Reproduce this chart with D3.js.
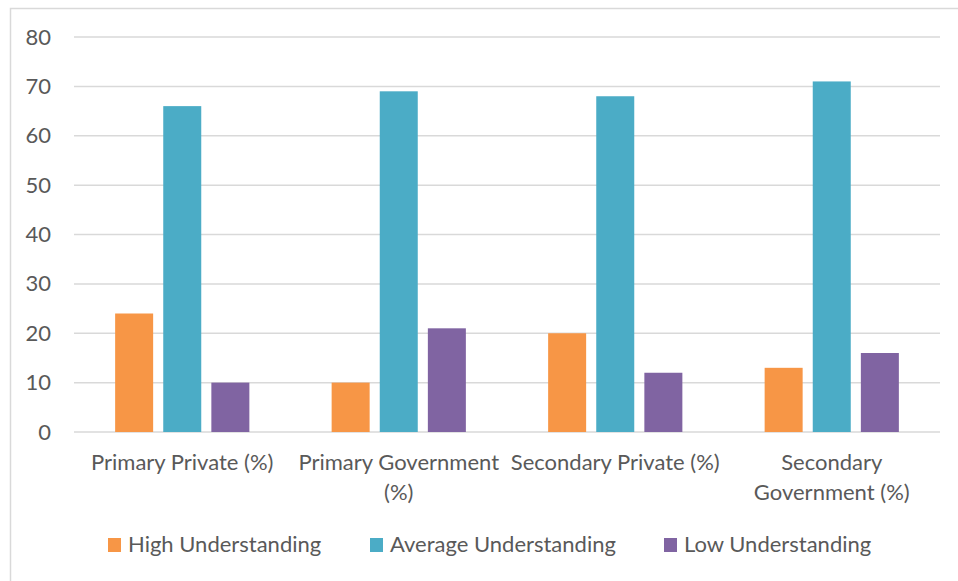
<!DOCTYPE html>
<html>
<head>
<meta charset="utf-8">
<script src="https://cdn.jsdelivr.net/npm/d3@7"></script>
<style>
  html, body { margin: 0; padding: 0; background: #fff; }
  svg { display: block; }
  text { font-family: Lato, "Open Sans", sans-serif; fill: #595959; }
</style>
</head>
<body>
<svg id="chart" width="958" height="581"></svg>
<script>
// School groups along the x axis, with the line breaks used in their labels
const categories = ["Primary Private (%)", "Primary Government (%)", "Secondary Private (%)", "Secondary Government (%)"];
const categoryLines = [
  ["Primary Private (%)"],
  ["Primary Government", "(%)"],
  ["Secondary Private (%)"],
  ["Secondary", "Government (%)"]
];
const seriesNames = ["High Understanding", "Average Understanding", "Low Understanding"];
const seriesColors = ["#F79646", "#4BACC6", "#8064A2"];
const highValues = [24, 10, 20, 13];
const averageValues = [66, 69, 68, 71];
const lowValues = [10, 21, 12, 16];
const yTicks = [0, 10, 20, 30, 40, 50, 60, 70, 80];

const series = [highValues, averageValues, lowValues];
const FONT = "Lato, 'Open Sans', sans-serif";
const FS = 22;

const svg = d3.select("#chart");
const W = 958, H = 581;

// outer chart frame
svg.append("rect")
  .attr("x", 10.5).attr("y", 8.5)
  .attr("width", W + 20).attr("height", H + 20)
  .attr("fill", "none").attr("stroke", "#d9d9d9").attr("stroke-width", 1.5);

const plot = { left: 74, right: 940, top: 37, bottom: 432 };

const y = d3.scaleLinear().domain([0, 80]).range([plot.bottom, plot.top]);
const x = d3.scaleBand().domain(categories).range([plot.left, plot.right]).paddingInner(0).paddingOuter(0);

// three bars per group, centred in each band
const groupWidth = x.bandwidth() * 0.62;
const xs = d3.scaleBand().domain(d3.range(series.length))
  .range([0, groupWidth]).paddingInner(0.21).paddingOuter(0);

// gridlines
svg.append("g")
  .selectAll("line")
  .data(yTicks)
  .join("line")
  .attr("x1", plot.left).attr("x2", plot.right)
  .attr("y1", d => y(d)).attr("y2", d => y(d))
  .attr("stroke", "#d9d9d9").attr("stroke-width", 1.5);

// y axis labels
const yAxis = d3.axisLeft(y).tickValues(yTicks).tickSize(0).tickPadding(0);
const yG = svg.append("g").attr("transform", `translate(51,0)`).call(yAxis);
yG.select(".domain").remove();
yG.attr("font-size", FS).attr("font-family", FONT);
yG.selectAll("text").attr("fill", "#595959");

// bars
const groups = svg.append("g")
  .selectAll("g")
  .data(categories)
  .join("g")
  .attr("transform", c => `translate(${x(c) + (x.bandwidth() - groupWidth) / 2},0)`);

groups.selectAll("rect")
  .data((c, ci) => series.map((s, si) => ({ si, v: s[ci] })))
  .join("rect")
  .attr("x", d => xs(d.si))
  .attr("width", xs.bandwidth())
  .attr("y", d => y(d.v))
  .attr("height", d => y(0) - y(d.v))
  .attr("fill", d => seriesColors[d.si]);

// x axis category labels
const xAxis = d3.axisBottom(x).tickSize(0).tickFormat(() => "");
const xG = svg.append("g").attr("transform", `translate(0,${plot.bottom})`).call(xAxis);
xG.select(".domain").remove();
xG.attr("font-size", FS).attr("font-family", FONT);
xG.selectAll(".tick").each(function (c) {
  const lines = categoryLines[categories.indexOf(c)];
  const t = d3.select(this).select("text")
    .attr("y", 0).attr("dy", null)
    .attr("fill", "#595959")
    .attr("text-anchor", "middle");
  t.selectAll("tspan")
    .data(lines)
    .join("tspan")
    .attr("x", 0)
    .attr("y", (d, i) => 38 + i * 30)
    .text(d => d);
});

// legend
const legendX = [108, 370, 664];
const legend = svg.append("g")
  .attr("font-size", FS).attr("font-family", FONT)
  .selectAll("g")
  .data(seriesNames)
  .join("g")
  .attr("transform", (d, i) => `translate(${legendX[i]},538)`);
legend.append("rect")
  .attr("width", 13).attr("height", 14)
  .attr("fill", (d, i) => seriesColors[i]);
legend.append("text")
  .attr("x", 20).attr("y", 14)
  .text(d => d);
</script>
</body>
</html>
